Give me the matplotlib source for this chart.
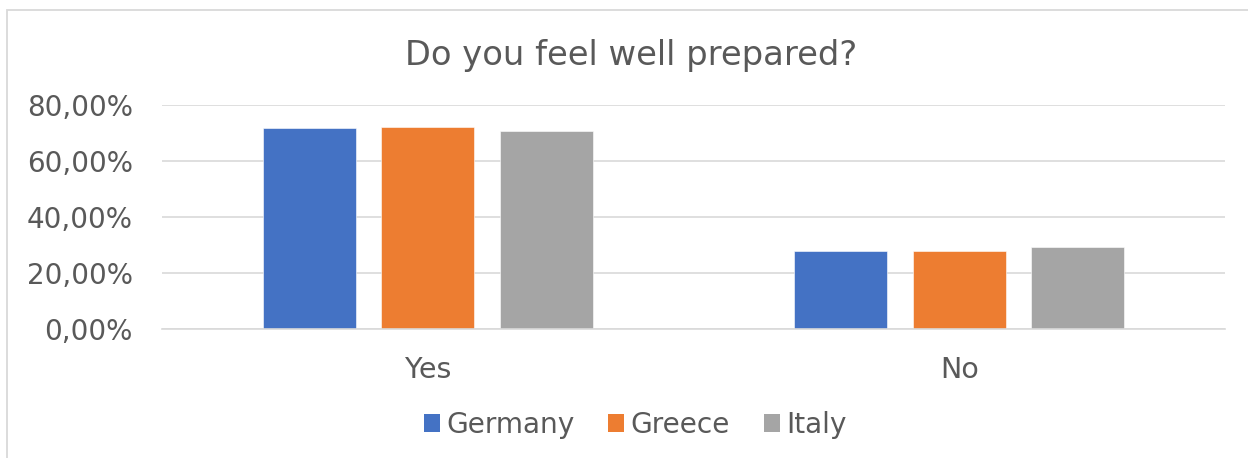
import matplotlib
matplotlib.use("Agg")
import matplotlib.pyplot as plt
from matplotlib.patches import Patch, Rectangle
from matplotlib.ticker import FuncFormatter, MultipleLocator
import numpy as np

# Survey answers by country
categories = ["Yes", "No"]
countries = ["Germany", "Greece", "Italy"]
germany = [0.719, 0.281]
greece = [0.720, 0.280]
italy = [0.708, 0.292]
series = [germany, greece, italy]
colors = ["#4472C4", "#ED7D31", "#A5A5A5"]

title = "Do you feel well prepared?"
text_color = "#595959"
grid_color = "#D9D9D9"

W, H = 1248, 458
fig = plt.figure(figsize=(W / 100, H / 100), dpi=100)
plt.rcParams["font.family"] = ["DejaVu Sans"]

# Chart frame (top and left edges visible)
fig.add_artist(Rectangle((7 / W, -0.05), 1.2, 1 - 10 / H + 0.05,
                         transform=fig.transFigure, fill=False,
                         edgecolor=grid_color, linewidth=1.3))

ax = fig.add_axes([162 / W, (H - 329.3) / H, (1225 - 162) / W, (329.3 - 105) / H])

x = np.arange(len(categories))
offsets = [-0.2225, 0.0, 0.2225]
bar_w = 0.175
for vals, off, col, name in zip(series, offsets, colors, countries):
    ax.bar(x + off, vals, width=bar_w, color=col, edgecolor="white",
           linewidth=0.4, label=name, zorder=3)

ax.set_xlim(-0.5, 1.5)
ax.set_ylim(0, 0.8)
ax.yaxis.set_major_locator(MultipleLocator(0.2))
ax.yaxis.set_major_formatter(FuncFormatter(lambda v, p: f"{v * 100:.2f}%".replace(".", ",")))
ax.set_xticks(x)
ax.set_xticklabels(categories)
ax.grid(axis="y", color=grid_color, linewidth=1.2, zorder=0)
for s in ["top", "right", "left"]:
    ax.spines[s].set_visible(False)
ax.spines["bottom"].set_color(grid_color)
ax.spines["bottom"].set_linewidth(1.2)
ax.spines["bottom"].set_zorder(4)
ax.tick_params(axis="both", length=0, colors=text_color, labelsize=20.0)
ax.tick_params(axis="x", labelsize=20.6)
ax.tick_params(axis="y", pad=21)
ax.tick_params(axis="x", pad=19)

fig.text(631 / W, (H - 55) / H, title, ha="center", va="center",
         fontsize=24.3, color=text_color)

handles = [Patch(facecolor=c, edgecolor="none") for c in colors]
leg = fig.legend(handles, countries, loc="center", bbox_to_anchor=(635 / W, (H - 425) / H),
                 ncol=3, frameon=False, fontsize=20.2, handlelength=0.58,
                 handleheight=0.58, handletextpad=0.22, columnspacing=1.2)
for t in leg.get_texts():
    t.set_color(text_color)

fig.savefig("out.png", dpi=100, facecolor="white")
